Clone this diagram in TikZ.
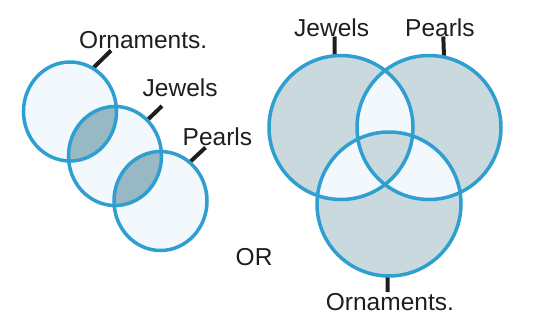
\documentclass[tikz,border=0pt]{standalone}
\usepackage{fontspec}
\setmainfont{Liberation Sans}
\usetikzlibrary{shapes.geometric}
\definecolor{ring}{HTML}{2E9FD0}
\definecolor{pale}{HTML}{F2F8FB}
\definecolor{deep}{HTML}{98B9C3}
\definecolor{grayb}{HTML}{C9D9DE}
\definecolor{ink}{HTML}{1E1E1E}
\begin{document}
\begin{tikzpicture}[x=1pt,y=-1pt,
  ringshape/.style={inner sep=0pt},
  lring/.style={ringshape,ellipse,minimum width=93pt,minimum height=99pt},
  rring/.style={ringshape,circle,minimum size=144pt},
  ringline/.style={draw=ring,line width=3.5pt},
  leader/.style={draw=ink,line width=4pt},
  lbl/.style={font=\fontsize{24.5}{28}\selectfont,text=ink,inner sep=0pt,anchor=base west}]
\useasboundingbox (0,0) rectangle (536,316);
% ---------- left diagram fills
\def\ca{(70,111.5) ellipse [x radius=46.5pt, y radius=49.5pt]}
\def\cb{(115,156) ellipse [x radius=46.5pt, y radius=49.5pt]}
\def\cc{(160.5,201) ellipse [x radius=46.5pt, y radius=49.5pt]}
\fill[pale] \ca; \fill[pale] \cb; \fill[pale] \cc;
\begin{scope}\clip \ca; \fill[deep] \cb;\end{scope}
\begin{scope}\clip \cb; \fill[deep] \cc;\end{scope}
% ---------- right diagram fills
\def\cj{(341,127.5) circle [radius=72pt]}
\def\cp{(429,127.5) circle [radius=72pt]}
\def\co{(389,204) circle [radius=72pt]}
\fill[grayb] \cj; \fill[grayb] \cp; \fill[grayb] \co;
\begin{scope}\clip \cj; \fill[pale] \cp; \fill[pale] \co;\end{scope}
\begin{scope}\clip \cp; \fill[pale] \co;\end{scope}
\begin{scope}\clip \cj; \clip \cp; \fill[grayb] \co;\end{scope}
% ---------- ring nodes (anchors for the leaders)
\node[lring] (L1) at (70,111.5) {};
\node[lring] (L2) at (115,156) {};
\node[lring] (L3) at (160.5,201) {};
\node[rring] (RJ) at (341,127.5) {};
\node[rring] (RP) at (429,127.5) {};
\node[rring] (RO) at (389,204) {};
% ---------- labels
\node[lbl] (tO1) at (79,48) {Ornaments.};
\node[lbl] (tJ1) at (142.5,96.7) {Jewels};
\node[lbl] (tP1) at (182.5,145) {Pearls};
\node[lbl] (tJ2) at (294,36) {Jewels};
\node[lbl] (tP2) at (405,36) {Pearls};
\node[lbl] (tO2) at (325.7,310) {Ornaments.};
\node[lbl] (tOR) at (235.5,265) {OR};
% ---------- leader ends
\coordinate (e1) at (111,50.5);
\coordinate (e2) at (162,106);
\coordinate (e3) at (205.5,147.5);
\coordinate (e4) at (334.5,36.5);
\coordinate (e5) at (443.3,36.5);
\coordinate (e6) at (387.7,292);
\draw[leader] (L1.62) -- (e1);
\draw[leader] (L2.48) -- (e2);
\draw[leader] (L3.53) -- (e3);
\draw[leader] (RJ.95) -- (e4);
\draw[leader] (RP.78.5) -- (e5);
\draw[leader] (RO.-91) -- (e6);
% ---------- rings on top
\draw[ringline] \ca \cb \cc \cj \cp \co;
\end{tikzpicture}
\end{document}
